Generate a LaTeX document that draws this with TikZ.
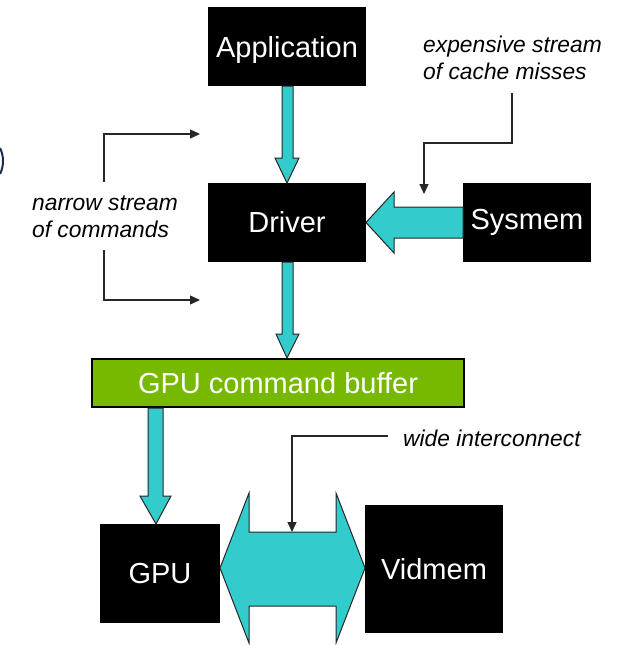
\documentclass[tikz,border=0pt]{standalone}
\usepackage{fontspec}
\setmainfont{Liberation Sans}
\usetikzlibrary{arrows.meta}
\definecolor{tealfill}{HTML}{33CCCC}
\definecolor{nvgreen}{HTML}{76B900}
\definecolor{navy}{HTML}{1A2A4A}
\tikzset{
  blackbox/.style={fill=black, text=white, inner sep=0pt, font=\fontsize{29}{32}\selectfont},
  greenbox/.style={fill=nvgreen, draw=black, line width=1.2pt, text=white, inner sep=0pt, font=\fontsize{29}{32}\selectfont},
  blockarrow/.style={fill=tealfill, draw=black!85, line width=1pt, line join=miter},
  note/.style={font=\fontsize{22.8}{27}\selectfont\itshape, align=left, inner sep=0pt},
  callout/.style={draw=black!85, line width=1.3pt, -{Triangle[length=10pt,width=9pt]}}
}
\begin{document}
\begin{tikzpicture}[x=1pt,y=-1pt]
\useasboundingbox (0,0) rectangle (621,645);
% partial shape at left edge
\draw[navy, line width=2pt] (0,148) .. controls (4,156) and (4,166) .. (0,174);

% boxes
\node[blackbox, minimum width=158pt, minimum height=79pt] (app) at (287,46.5) {\smash{\raisebox{-11pt}{Application}}};
\node[blackbox, minimum width=158pt, minimum height=79pt] (drv) at (287,222.5) {Driver};
\node[blackbox, minimum width=128pt, minimum height=79pt] (sys) at (527,222.5) {Sysmem};
\node[greenbox, minimum width=372pt, minimum height=48pt] (buf) at (278,383) {GPU command buffer};
\node[blackbox, minimum width=120pt, minimum height=99pt] (gpu) at (160,573.5) {GPU};
\node[blackbox, minimum width=138pt, minimum height=128pt] (vid) at (434,569) {Vidmem};

% block arrows
% Application -> Driver
\draw[blockarrow] (282,86) -- (293,86) -- (293,158) -- (299,158) -- (287,183) -- (275,158) -- (282,158) -- cycle;
% Driver -> buffer
\draw[blockarrow] (282,262) -- (293,262) -- (293,334) -- (299,334) -- (287,358) -- (276,334) -- (282,334) -- cycle;
% buffer -> GPU
\draw[blockarrow] (148,408) -- (163,408) -- (163,496) -- (171,496) -- (156,524) -- (140,496) -- (148,496) -- cycle;
% Sysmem -> Driver
\draw[blockarrow] (463,207) -- (394,207) -- (394,192) -- (366,222.5) -- (394,253) -- (394,238) -- (463,238) -- cycle;
% GPU <-> Vidmem
\draw[blockarrow] (220,568) -- (249,493) -- (249,532) -- (336,532) -- (336,493) -- (365,568)
  -- (336,643) -- (336,606) -- (249,606) -- (249,643) -- cycle;

% annotations
\node[note, anchor=north west] (cache) at (423,36) {expensive stream\\of cache misses};
\coordinate (cacheend) at (424,194);
\draw[callout] (512,93) -- (512,143) -- (424,143) -- (cacheend);

\node[note, anchor=center] (narrow) at (105,217) {narrow stream\\of commands};
\coordinate (narrowtop) at (200,134);
\coordinate (narrowbot) at (200,300);
\draw[callout] (104,182) -- (104,134) -- (narrowtop);
\draw[callout] (104,250) -- (104,300) -- (narrowbot);

\node[note, anchor=west] (wide) at (403,438) {wide interconnect};
\coordinate (wideend) at (292,532);
\draw[callout] (388,436) -- (292,436) -- (wideend);
\end{tikzpicture}
\end{document}
